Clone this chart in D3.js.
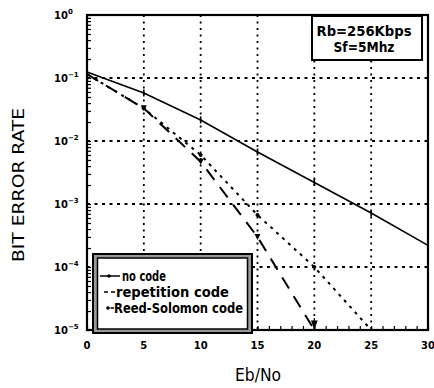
<!DOCTYPE html>
<html><head><meta charset="utf-8">
<script src="https://cdn.jsdelivr.net/npm/d3@7"></script>
<style>
html,body{margin:0;padding:0;background:#fff;}
svg{display:block;}
text{fill:#000;}
</style></head>
<body>
<svg id="c" width="434" height="388"></svg>
<script>
// ---- data ----
const ebNo = [0, 5, 10, 15, 20, 25, 30];
const noCode = [0.125, 0.058, 0.0216, 0.0067, 0.0022, 0.00072, 0.00022];
const repEb = [0, 5, 10, 15, 20];
const repetition = [0.115, 0.033, 0.0047, 0.0003, 0.00001];
const rsEb = [0, 5, 10, 15, 20, 25];
const reedSolomon = [0.115, 0.033, 0.006, 0.00067, 0.0001, 0.00001];
const xTicks = [0, 5, 10, 15, 20, 25, 30];
const yExp = [0, -1, -2, -3, -4, -5];
const legendLabels = ["no code", "repetition code", "Reed-Solomon code"];
const noteLines = ["Rb=256Kbps", "Sf=5Mhz"];

const svg = d3.select("#c");
const L = 87, R = 428, T = 15, B = 330;
const x = d3.scaleLinear().domain([0, 30]).range([L, R]);
const y = d3.scaleLog().domain([1e-5, 1]).range([B, T]);
const font = "'Liberation Sans Narrow','DejaVu Sans Condensed','Liberation Sans',sans-serif";

// grid
const g = svg.append("g");
xTicks.slice(1, -1).forEach(v => {
  g.append("line").attr("x1", x(v)).attr("x2", x(v)).attr("y1", T).attr("y2", B)
    .attr("stroke", "#000").attr("stroke-width", 1.8).attr("stroke-dasharray", "2,4.5");
});
yExp.slice(1, -1).forEach(e => {
  g.append("line").attr("x1", L).attr("x2", R).attr("y1", y(Math.pow(10, e))).attr("y2", y(Math.pow(10, e)))
    .attr("stroke", "#000").attr("stroke-width", 1.8).attr("stroke-dasharray", "3,4.5");
});

// axes (inward ticks)
const yMinor = [];
for (let e = -5; e < 0; e++) for (let k = 1; k < 10; k++) yMinor.push(k * Math.pow(10, e));
yMinor.push(1);
const yAxis = d3.axisRight(y).tickValues(yMinor).tickSize(4).tickFormat("");
svg.append("g").attr("transform", `translate(${L},0)`).call(yAxis)
  .call(s => s.select(".domain").remove())
  .call(s => s.selectAll("line").attr("stroke-width", 1.2));
const xMinor = d3.range(0, 31, 1);
const xAxis = d3.axisTop(x).tickValues(xMinor).tickSize(4).tickFormat("");
svg.append("g").attr("transform", `translate(0,${B})`).call(xAxis)
  .call(s => s.select(".domain").remove())
  .call(s => s.selectAll("line").attr("stroke-width", 1.2));

// frame
svg.append("rect").attr("x", L).attr("y", T).attr("width", R - L).attr("height", B - T)
  .attr("fill", "none").attr("stroke", "#000").attr("stroke-width", 2.2);

// tick labels
xTicks.forEach(v => {
  svg.append("text").attr("x", x(v)).attr("y", 349).attr("text-anchor", "middle")
    .attr("font-family", "'DejaVu Sans'").attr("font-weight", "bold").attr("font-size", 10).text(v);
});
yExp.forEach(e => {
  const t = svg.append("text").attr("x", 54).attr("y", y(Math.pow(10, e)) + 4)
    .attr("font-family", "'DejaVu Sans'").attr("font-weight", "bold").attr("font-size", 10);
  t.append("tspan").text("10");
  t.append("tspan").attr("dy", -5).attr("font-size", 7).text(e === 0 ? "0" : "\u2212" + (-e));
});

// curves
const line = (xs, ys) => d3.line().x((d, i) => x(xs[i])).y(d => y(d))(ys);
svg.append("path").attr("d", line(rsEb, reedSolomon)).attr("fill", "none")
  .attr("stroke", "#000").attr("stroke-width", 2).attr("stroke-dasharray", "3,5");
svg.append("path").attr("d", line(repEb, repetition)).attr("fill", "none")
  .attr("stroke", "#000").attr("stroke-width", 2).attr("stroke-dasharray", "13,9");
svg.append("path").attr("d", line(ebNo, noCode)).attr("fill", "none")
  .attr("stroke", "#000").attr("stroke-width", 1.6);

// markers
ebNo.forEach((v, i) => {
  if (i === 0 || i === ebNo.length - 1) return;
  svg.append("line").attr("x1", x(v)).attr("x2", x(v)).attr("y1", y(noCode[i]) - 3.5).attr("y2", y(noCode[i]) + 3.5)
    .attr("stroke", "#000").attr("stroke-width", 1.6);
});
repEb.forEach((v, i) => {
  if (i === 0) return;
  const cx = x(v), cy = y(repetition[i]);
  if (i === repEb.length - 1) {
    svg.append("path").attr("d", `M${cx},${cy - 2}L${cx - 2.5},${cy - 9}L${cx + 2.5},${cy - 9}Z M${cx},${cy}V${cy - 12}`)
      .attr("fill", "#000").attr("stroke", "#000").attr("stroke-width", 1.2);
  } else {
    svg.append("path").attr("d", `M${cx - 3},${cy - 3}L${cx + 3},${cy - 3}L${cx},${cy + 3}Z`).attr("fill", "#000");
  }
});
rsEb.forEach((v, i) => {
  if (i === 0 || i === rsEb.length - 1) return;
  svg.append("circle").attr("cx", x(v)).attr("cy", y(reedSolomon[i])).attr("r", 2).attr("fill", "#000");
});

// legend box
svg.append("rect").attr("x", 93).attr("y", 254).attr("width", 159).attr("height", 79)
  .attr("fill", "#999").attr("stroke", "#000").attr("stroke-width", 2);
svg.append("rect").attr("x", 97.5).attr("y", 258).attr("width", 150).attr("height", 71)
  .attr("fill", "#fff").attr("stroke", "#000").attr("stroke-width", 1.5);
const ly = [276, 292, 308];
const lx = [122, 116, 114];
const lw = [44, 113, 129];
// legend symbols
svg.append("line").attr("x1", 100).attr("x2", 120).attr("y1", ly[0]).attr("y2", ly[0]).attr("stroke", "#000").attr("stroke-width", 1.5);
svg.append("circle").attr("cx", 109).attr("cy", ly[0]).attr("r", 1.8).attr("fill", "#000");
svg.append("line").attr("x1", 104).attr("x2", 115).attr("y1", ly[1]).attr("y2", ly[1]).attr("stroke", "#000").attr("stroke-width", 1.5).attr("stroke-dasharray", "4,3");
svg.append("circle").attr("cx", 108).attr("cy", ly[2]).attr("r", 1.8).attr("fill", "#000");
svg.append("line").attr("x1", 110.5).attr("x2", 114).attr("y1", ly[2]).attr("y2", ly[2]).attr("stroke", "#000").attr("stroke-width", 1.5);
legendLabels.forEach((t, i) => {
  svg.append("text").attr("x", lx[i]).attr("y", ly[i] + 5).attr("font-family", font).attr("font-weight", "bold")
    .attr("font-size", 14).attr("textLength", lw[i]).attr("lengthAdjust", "spacingAndGlyphs").text(t);
});

// annotation box
svg.append("rect").attr("x", 312).attr("y", 16).attr("width", 110).attr("height", 44)
  .attr("fill", "#fff").attr("stroke", "#000").attr("stroke-width", 2);
svg.append("text").attr("x", 364).attr("y", 36).attr("text-anchor", "middle").attr("font-family", font).attr("font-weight", "bold")
  .attr("font-size", 14).attr("textLength", 95).attr("lengthAdjust", "spacingAndGlyphs").text(noteLines[0]);
svg.append("text").attr("x", 364).attr("y", 52).attr("text-anchor", "middle").attr("font-family", font).attr("font-weight", "bold")
  .attr("font-size", 14).attr("textLength", 61).attr("lengthAdjust", "spacingAndGlyphs").text(noteLines[1]);

// axis titles
svg.append("text").attr("x", 258).attr("y", 381).attr("text-anchor", "middle").attr("font-family", font)
  .attr("font-size", 17).attr("textLength", 46).attr("lengthAdjust", "spacingAndGlyphs").text("Eb/No");
svg.append("text").attr("transform", "translate(24,185) rotate(-90)").attr("text-anchor", "middle")
  .attr("font-family", font).attr("font-size", 15).attr("textLength", 154).attr("lengthAdjust", "spacingAndGlyphs")
  .text("BIT ERROR RATE");
</script>
</body></html>
